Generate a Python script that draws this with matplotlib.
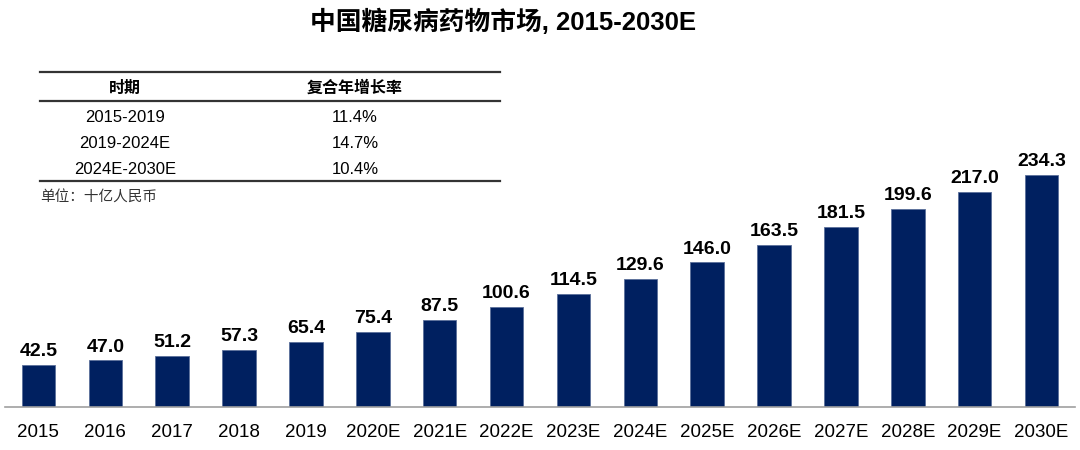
import matplotlib
matplotlib.use("Agg")
import matplotlib.pyplot as plt
from matplotlib.lines import Line2D

plt.rcParams['font.family'] = ['Liberation Sans', 'Noto Sans CJK SC', 'DejaVu Sans']

years = ['2015', '2016', '2017', '2018', '2019', '2020E', '2021E', '2022E',
         '2023E', '2024E', '2025E', '2026E', '2027E', '2028E', '2029E', '2030E']
values = [42.5, 47.0, 51.2, 57.3, 65.4, 75.4, 87.5, 100.6,
          114.5, 129.6, 146.0, 163.5, 181.5, 199.6, 217.0, 234.3]

periods = ['2015-2019', '2019-2024E', '2024E-2030E']
cagr = ['11.4%', '14.7%', '10.4%']

W, H = 1080, 450
fig = plt.figure(figsize=(W / 100, H / 100), dpi=100)

# bars
ax = fig.add_axes([5 / W, 43 / H, 1070 / W, 247.5 / H])
x = range(len(years))
ax.bar(x, values, width=0.5, color='#002060', edgecolor='#5a6f9a', linewidth=0.6)
ax.set_xlim(-0.5, len(years) - 0.5)
ax.set_ylim(0, 250)
for i, v in zip(x, values):
    ax.text(i, v + 5, f'{v:.1f}', ha='center', va='bottom', fontsize=14,
            fontweight='bold', color='black')
ax.set_xticks(list(x))
ax.set_xticklabels(years, fontsize=13.5)
ax.tick_params(axis='x', length=0, pad=12)
ax.set_yticks([])
for s in ['top', 'right', 'left']:
    ax.spines[s].set_visible(False)
ax.spines['bottom'].set_color('#a0a0a0')
ax.spines['bottom'].set_linewidth(1.2)

# title
fig.text(503 / W, 1 - 22 / H, '中国糖尿病药物市场, 2015-2030E', ha='center', va='center',
         fontsize=18.5, fontweight='bold')

# CAGR table
def fy(py):
    return 1 - py / H

x0, x1 = 40 / W, 500 / W
for py in [72, 101, 181]:
    fig.add_artist(Line2D([x0, x1], [fy(py), fy(py)], color='#333333', linewidth=1.6))

c1, c2 = 125 / W, 355 / W
fig.text(c1, fy(88), '时期', ha='center', va='center', fontsize=11.5, fontweight='bold')
fig.text(c2, fy(88), '复合年增长率', ha='center', va='center', fontsize=11.5, fontweight='bold')
for k, (p, c) in enumerate(zip(periods, cagr)):
    py = 117 + k * 26
    fig.text(c1, fy(py), p, ha='center', va='center', fontsize=12)
    fig.text(c2, fy(py), c, ha='center', va='center', fontsize=12)

fig.text(x0, fy(198), '单位：十亿人民币', ha='left', va='center', fontsize=10.5,
         color='#333333')

fig.savefig('out.png', dpi=100)
